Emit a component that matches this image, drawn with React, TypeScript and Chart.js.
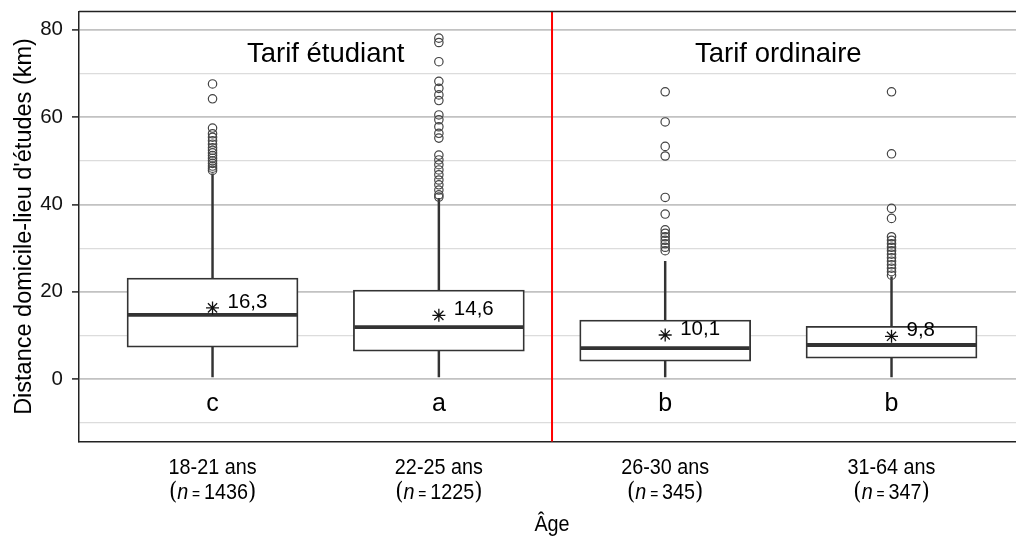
import React, { useEffect, useRef } from "react";
import { Chart, registerables } from "chart.js";

Chart.register(...registerables);

const categories = ["18-21 ans", "22-25 ans", "26-30 ans", "31-64 ans"];
const sampleSizes = [1436, 1225, 345, 347];
const groupLetters = ["c", "a", "b", "b"];
const panelLabels = ["Tarif étudiant", "Tarif ordinaire"];
const panelCenters = [1.5, 3.5];
const panelSplit = 2.5;

const whiskerLow = [0.5, 0.5, 0.5, 0.5];
const q1 = [7.3, 6.4, 4.1, 4.8];
const medians = [14.7, 11.9, 7.1, 7.8];
const q3 = [23.15, 20.4, 13.5, 12.1];
const whiskerHigh = [47.0, 41.4, 27.0, 23.4];
const means = [16.3, 14.6, 10.1, 9.8];

const outliers1 = [67.6, 64.2, 57.5, 56.2, 55.4, 54.6, 53.8, 53.0, 52.4, 51.8, 51.2, 50.6, 50.0, 49.4, 48.8, 48.3, 47.8];
const outliers2 = [78.1, 77.1, 72.7, 68.2, 66.6, 65.1, 63.8, 60.5, 59.4, 57.8, 56.3, 55.2, 51.3, 50.2, 49.1, 47.9, 46.8, 45.6, 44.5, 43.3, 42.2, 41.7];
const outliers3 = [65.8, 58.9, 53.3, 51.1, 41.6, 37.8, 34.2, 33.4, 32.6, 31.8, 31.0, 30.2, 29.4];
const outliers4 = [65.8, 51.6, 39.1, 36.8, 32.6, 31.8, 31.0, 30.2, 29.4, 28.6, 27.8, 27.0, 26.2, 25.4, 24.6, 23.8];
const outlierGroups = [outliers1, outliers2, outliers3, outliers4];

const yTicks = [-10, 0, 10, 20, 30, 40, 50, 60, 70, 80];
const yMin = -14.3;
const yMax = 84.2;
const xMin = 0.41;
const xMax = 4.55;

const INK = "#333333";
const SANS = "'Liberation Sans', Arial, sans-serif";

function scaledText(ctx: CanvasRenderingContext2D, text: string, x: number, y: number, font: string, sx: number, align: CanvasTextAlign) {
  ctx.save();
  ctx.font = font;
  ctx.translate(x, y);
  ctx.scale(sx, 1);
  ctx.textAlign = align;
  ctx.textBaseline = "alphabetic";
  ctx.fillText(text, 0, 0);
  ctx.restore();
}

const annotationsPlugin = {
  id: "annotations",
  afterDatasetsDraw(chart: any) {
    const { ctx, chartArea } = chart;
    const xs = chart.scales.x;
    const ys = chart.scales.y;
    ctx.save();
    // red separator
    const sx = xs.getPixelForValue(panelSplit);
    ctx.strokeStyle = "#ff0000";
    ctx.lineWidth = 2;
    ctx.beginPath();
    ctx.moveTo(sx, chartArea.top);
    ctx.lineTo(sx, chartArea.bottom);
    ctx.stroke();
    // top border
    ctx.strokeStyle = "#222";
    ctx.lineWidth = 1.5;
    ctx.beginPath();
    ctx.moveTo(chartArea.left, chartArea.top);
    ctx.lineTo(chartArea.right, chartArea.top);
    ctx.stroke();
    ctx.fillStyle = "#000";
    // panel labels
    panelLabels.forEach((t, i) => {
      scaledText(ctx, t, xs.getPixelForValue(panelCenters[i]), ys.getPixelForValue(72.7), `27.5px ${SANS}`, 1, "center");
    });
    // mean labels and letters
    categories.forEach((_, i) => {
      const cx = xs.getPixelForValue(i + 1);
      scaledText(ctx, means[i].toFixed(1).replace(".", ","), cx + 15, ys.getPixelForValue(means[i]), `19.5px ${SANS}`, 1.05, "left");
      scaledText(ctx, groupLetters[i], cx, ys.getPixelForValue(-7.3), `25px ${SANS}`, 1, "center");
    });
    ctx.restore();
  },
  afterDraw(chart: any) {
    const { ctx, chartArea } = chart;
    const xs = chart.scales.x;
    ctx.save();
    ctx.fillStyle = "#000";
    const b = chartArea.bottom;
    const SX = 0.92;
    categories.forEach((c, i) => {
      const cx = xs.getPixelForValue(i + 1);
      scaledText(ctx, c, cx, b + 32, `21.5px ${SANS}`, SX, "center");
      const parts = [
        { t: "(", f: `25px 'DejaVu Serif', serif`, s: 0.85 },
        { t: "n", f: `italic 21.5px ${SANS}`, s: SX },
        { t: " = ", f: `15px ${SANS}`, s: SX },
        { t: String(sampleSizes[i]), f: `21.5px ${SANS}`, s: SX },
        { t: ")", f: `25px 'DejaVu Serif', serif`, s: 0.85 },
      ];
      const widths = parts.map((p) => {
        ctx.font = p.f;
        return ctx.measureText(p.t).width * p.s;
      });
      const total = widths.reduce((a, w) => a + w, 0);
      let x = cx - total / 2;
      parts.forEach((p, k) => {
        scaledText(ctx, p.t, x, b + 57.5, p.f, p.s, "left");
        x += widths[k];
      });
    });
    scaledText(ctx, "Âge", xs.getPixelForValue(panelSplit), b + 89.5, `21.5px ${SANS}`, SX, "center");
    ctx.restore();
  },
};

export default function App() {
  const ref = useRef<HTMLCanvasElement | null>(null);
  useEffect(() => {
    if (!ref.current) return;
    const pos = (i: number) => i + 1;
    const chart = new Chart(ref.current, {
      type: "bar",
      data: {
        datasets: [
          {
            type: "bar",
            label: "whiskers",
            data: categories.map((_, i) => ({ x: pos(i), y: [whiskerLow[i], whiskerHigh[i]] })) as any,
            backgroundColor: INK,
            borderWidth: 0,
            barThickness: 1.8,
            grouped: false,
            order: 5,
          },
          {
            type: "bar",
            label: "box",
            data: categories.map((_, i) => ({ x: pos(i), y: [q1[i], q3[i]] })) as any,
            backgroundColor: "#ffffff",
            borderColor: INK,
            borderWidth: 1.8,
            borderSkipped: false,
            barThickness: 171,
            grouped: false,
            order: 4,
          },
          {
            type: "line",
            label: "median",
            data: categories.map((_, i) => ({ x: pos(i), y: medians[i] })),
            showLine: false,
            pointStyle: "line",
            pointRadius: 84.5,
            pointHoverRadius: 84.5,
            borderColor: INK,
            borderWidth: 3.8,
            order: 3,
          } as any,
          {
            type: "line",
            label: "mean",
            data: categories.map((_, i) => ({ x: pos(i), y: means[i] })),
            showLine: false,
            pointStyle: "star",
            pointRadius: 6.5,
            borderColor: "#111",
            borderWidth: 1.3,
            order: 2,
          } as any,
          {
            type: "line",
            label: "outliers",
            data: outlierGroups.flatMap((g, i) => g.map((v) => ({ x: pos(i), y: v }))),
            showLine: false,
            pointStyle: "circle",
            pointRadius: 4.2,
            backgroundColor: "rgba(0,0,0,0)",
            borderColor: "#444",
            borderWidth: 1.2,
            order: 1,
          } as any,
        ],
      },
      options: {
        responsive: false,
        animation: false,
        layout: { autoPadding: false, padding: { top: 11.5, left: 0, right: 0, bottom: 0 } },
        plugins: { legend: { display: false }, tooltip: { enabled: false } },
        scales: {
          x: {
            type: "linear",
            min: xMin,
            max: xMax,
            offset: false,
            grid: { display: false, offset: false },
            border: { display: true, color: "#222", width: 1.5 },
            ticks: { display: false },
            afterFit: (s: any) => {
              s.height = 96.5;
              s.paddingLeft = 0;
              s.paddingRight = 0;
            },
          },
          y: {
            type: "linear",
            min: yMin,
            max: yMax,
            afterBuildTicks: (s: any) => {
              s.ticks = yTicks.map((v) => ({ value: v }));
            },
            afterFit: (s: any) => {
              s.width = 79;
              s.paddingTop = 0;
              s.paddingBottom = 0;
            },
            border: { display: true, color: "#222", width: 1.5 },
            grid: {
              color: (c: any) => (c.tick && c.tick.value % 20 === 0 ? "#c2c2c2" : "#dcdcdc"),
              lineWidth: (c: any) => (c.tick && c.tick.value % 20 === 0 ? 1.8 : 1.2),
              tickColor: (c: any) => (c.tick && c.tick.value % 20 === 0 ? "#222" : "rgba(0,0,0,0)"),
              tickWidth: 1.5,
              tickLength: 7,
            },
            ticks: {
              padding: 9,
              color: "#111",
              font: { family: SANS, size: 20.5 },
              callback: (v: any) => (Number(v) % 20 === 0 ? String(v) : ""),
            },
            title: {
              display: true,
              text: "Distance domicile-lieu d'études (km)",
              color: "#000",
              font: { family: SANS, size: 23.5 },
              padding: { top: 10, bottom: 0 },
            },
          },
        },
      },
      plugins: [annotationsPlugin],
    });
    return () => chart.destroy();
  }, []);
  return (
    <div style={{ position: "fixed", left: 0, top: 0, width: 1016, height: 538, background: "#fff" }}>
      <canvas ref={ref} width={1016} height={538} style={{ display: "block" }} />
    </div>
  );
}
